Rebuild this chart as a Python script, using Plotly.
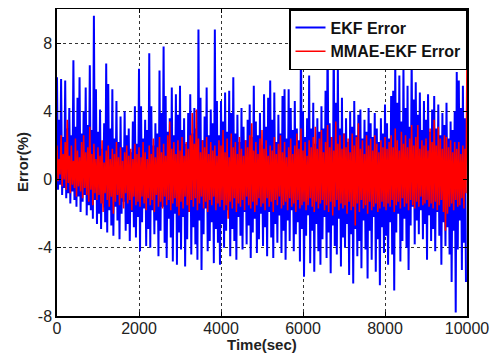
import numpy as np
import plotly.graph_objects as go

# Sample spacing: upper-envelope samples at t = 0, 50, ..., 9950; lower at t + 25
step = 50
ekf_upper = [
    6.0, 3.5, 5.9, 2.5, 5.8, 3.0, 4.2, 2.6, 7.0, 3.1, 4.8, 6.0, 2.7, 4.0, 5.4, 3.2, 6.7, 2.9, 9.6, 5.3,
    2.8, 4.1, 1.8, 3.3, 6.8, 5.6, 3.0, 5.3, 2.4, 4.6, 2.2, 3.7, 1.9, 4.0, 2.6, 3.0, 1.6, 3.4, 4.3, 2.1,
    6.5, 4.3, 2.4, 3.5, 2.9, 7.4, 4.3, 2.0, 3.3, 2.7, 6.4, 3.9, 7.8, 4.9, 2.8, 3.6, 5.4, 2.6, 5.0, 3.8,
    5.5, 2.9, 3.6, 2.1, 3.9, 5.0, 2.7, 4.2, 3.0, 8.8, 4.8, 2.3, 3.7, 5.4, 2.6, 4.1, 3.3, 8.8, 4.6, 2.6,
    4.6, 3.4, 5.1, 2.8, 5.2, 3.9, 6.0, 2.7, 3.8, 2.2, 4.2, 3.1, 2.3, 3.5, 4.4, 2.5, 5.5, 3.4, 2.6, 3.9,
    2.0, 5.0, 3.1, 4.8, 5.8, 3.5, 5.1, 2.2, 3.8, 2.7, 4.9, 5.3, 2.4, 5.3, 4.2, 2.9, 4.6, 3.0, 2.3, 8.5,
    4.0, 2.5, 3.6, 6.1, 3.0, 4.5, 2.1, 3.6, 2.8, 4.3, 3.0, 5.2, 9.0, 3.3, 2.5, 8.5, 4.5, 6.6, 3.0, 4.8,
    2.7, 3.6, 2.2, 4.0, 3.1, 4.6, 2.6, 3.8, 4.1, 2.4, 3.5, 2.8, 4.2, 3.3, 2.5, 3.9, 3.0, 2.2, 3.6, 2.7,
    4.4, 3.3, 2.4, 4.9, 5.2, 7.0, 4.5, 6.1, 3.4, 6.6, 4.2, 5.5, 3.1, 7.1, 4.7, 5.7, 3.8, 5.1, 2.9, 4.6,
    3.5, 5.0, 2.8, 4.1, 4.9, 3.0, 4.4, 2.6, 3.9, 3.2, 4.5, 2.4, 3.4, 2.9, 4.0, 6.3, 5.8, 4.2, 5.5, 3.6,
]
ekf_lower = [
    -0.6, -0.3, -0.9, -0.5, -1.1, -0.8, -1.4, -0.7, -1.2, -1.6, -1.0, -1.9, -1.3, -0.9, -2.1, -1.5, -1.8, -2.3, -1.2, -2.6,
    -2.0, -2.9, -1.4, -2.5, -3.1, -1.8, -2.7, -3.3, -1.6, -2.4, -3.5, -2.0, -1.3, -3.0, -2.6, -3.6, -1.9, -2.8, -3.4, -2.2,
    -4.2, -2.5, -1.7, -3.9, -2.9, -4.0, -1.8, -3.2, -2.4, -4.5, -3.0, -1.6, -3.7, -4.6, -2.3, -3.4, -4.8, -2.0, -5.0, -3.1,
    -4.1, -2.2, -5.1, -3.5, -1.9, -4.4, -2.8, -3.8, -4.7, -2.4, -5.3, -3.2, -1.7, -4.2, -3.6, -2.5, -4.9, -2.9, -3.7, -5.0,
    -2.6, -4.0, -3.0, -1.8, -4.5, -2.9, -3.6, -4.7, -2.2, -3.3, -4.1, -1.9, -3.8, -2.7, -4.6, -3.1, -2.3, -4.3, -3.5, -2.0,
    -3.9, -2.8, -4.5, -1.9, -3.4, -4.6, -2.6, -3.7, -2.1, -4.3, -3.0, -4.7, -2.4, -3.6, -1.8, -4.2, -3.2, -2.5, -4.8, -2.9,
    -5.7, -3.3, -2.1, -4.9, -3.0, -5.4, -2.6, -4.2, -5.0, -3.5, -2.2, -4.6, -3.1, -5.5, -2.7, -3.9, -4.4, -2.3, -5.1, -3.4,
    -4.0, -2.6, -5.6, -3.2, -6.1, -2.9, -4.5, -3.6, -5.2, -2.4, -4.1, -5.8, -3.0, -4.7, -2.2, -5.4, -3.5, -6.2, -2.8, -4.3,
    -3.3, -5.0, -2.5, -4.4, -6.5, -3.1, -2.0, -4.8, -3.6, -2.3, -4.0, -5.3, -2.7, -1.6, -3.8, -2.4, -3.2, -1.8, -3.5, -2.6,
    -4.7, -2.1, -3.6, -2.9, -4.2, -1.9, -3.3, -5.0, -2.5, -3.9, -2.8, -4.4, -6.0, -3.0, -7.8, -4.1, -2.4, -5.3, -3.7, -6.0,
]
mmae_upper = [
    2.0, 1.2, 2.6, 1.5, 2.2, 3.5, 1.4, 2.0, 1.1, 2.4, 1.7, 1.3, 2.2, 2.6, 1.6, 1.9, 3.1, 1.5, 2.1, 1.2,
    1.9, 1.4, 2.3, 1.0, 1.7, 2.0, 1.2, 1.8, 1.5, 2.2, 1.3, 1.9, 1.1, 1.6, 2.0, 1.4, 1.8, 1.2, 2.1, 1.5,
    1.9, 1.3, 2.2, 1.6, 1.2, 2.0, 1.5, 2.4, 1.3, 1.9, 2.5, 1.6, 2.1, 1.4, 2.6, 3.4, 1.8, 2.2, 1.5, 2.3,
    1.7, 2.5, 1.4, 2.2, 1.8, 2.6, 3.9, 2.1, 4.1, 2.4, 1.6, 2.3, 1.9, 2.5, 1.5, 2.2, 1.7, 2.0, 1.4, 2.3,
    2.0, 2.9, 1.6, 2.4, 1.3, 2.7, 1.9, 2.2, 1.5, 2.5, 1.8, 1.4, 2.3, 1.9, 2.6, 3.3, 1.7, 2.2, 1.5, 2.4,
    2.9, 1.8, 2.3, 1.4, 2.0, 1.7, 2.5, 1.5, 2.1, 2.6, 1.6, 2.2, 1.3, 1.9, 2.4, 1.5, 2.0, 2.7, 1.8, 3.0,
    1.7, 2.2, 1.4, 2.3, 1.9, 2.5, 3.1, 1.8, 2.4, 2.9, 1.6, 2.2, 3.2, 1.9, 2.5, 1.7, 3.4, 2.1, 2.6, 1.8,
    2.7, 1.9, 2.4, 1.6, 2.7, 2.0, 2.5, 3.3, 1.8, 2.3, 1.5, 2.6, 2.0, 2.4, 1.7, 2.6, 2.1, 1.6, 2.3, 1.9,
    2.5, 1.8, 2.2, 2.6, 1.9, 3.0, 2.3, 1.7, 2.8, 2.1, 2.6, 1.9, 2.4, 3.2, 2.0, 2.5, 3.2, 1.8, 2.3, 2.0,
    2.4, 1.7, 3.0, 2.2, 3.5, 2.0, 3.1, 2.4, 1.8, 2.6, 2.5, 1.9, 2.3, 1.6, 2.2, 1.8, 2.2, 1.5, 2.0, 1.8,
]
mmae_lower = [
    -0.1, 0.3, -0.4, 0.0, -0.6, -0.2, -0.8, -0.3, -0.5, -1.0, -0.4, -0.7, -1.1, -0.5, -0.9, -1.3, -0.6, -1.5, -0.8, -1.2,
    -0.9, -1.4, -1.9, -0.8, -1.2, -1.6, -1.0, -2.0, -1.3, -0.9, -1.5, -1.1, -1.7, -0.8, -1.4, -1.2, -1.8, -1.0, -1.5, -1.3,
    -1.6, -1.0, -1.4, -1.8, -1.1, -1.5, -1.2, -1.9, -0.9, -1.6, -1.3, -1.7, -1.0, -1.5, -1.2, -1.8, -1.4, -1.1, -1.6, -2.1,
    -1.3, -1.7, -1.0, -1.5, -1.9, -1.2, -1.6, -1.1, -1.8, -1.4, -1.0, -1.7, -1.3, -1.9, -1.2, -1.5, -1.0, -1.8, -1.4, -1.6,
    -1.2, -1.8, -1.5, -2.3, -1.3, -1.7, -1.1, -1.9, -1.4, -1.6, -1.2, -1.8, -1.0, -1.5, -1.7, -1.3, -1.9, -1.5, -1.1, -1.6,
    -1.4, -1.8, -1.1, -1.6, -1.3, -1.9, -1.2, -1.5, -1.0, -1.7, -1.5, -1.3, -1.8, -1.1, -1.6, -1.4, -1.9, -1.2, -1.7, -1.5,
    -1.3, -1.8, -1.5, -1.1, -1.6, -1.9, -1.3, -1.7, -1.4, -1.2, -1.8, -1.5, -1.9, -1.3, -2.1, -1.6, -1.2, -1.8, -1.4, -1.7,
    -1.5, -2.0, -1.3, -1.8, -1.6, -2.7, -1.4, -1.9, -1.2, -1.7, -1.5, -2.0, -1.3, -1.8, -1.6, -1.4, -1.9, -1.7, -1.3, -1.6,
    -1.8, -1.4, -1.6, -1.2, -1.9, -1.5, -1.3, -1.7, -1.1, -1.6, -1.4, -1.8, -1.2, -1.5, -1.7, -1.3, -1.6, -1.0, -1.5, -1.4,
    -1.2, -1.6, -1.4, -1.7, -1.3, -1.8, -1.5, -1.2, -1.9, -3.0, -2.0, -1.6, -1.4, -1.8, -1.2, -1.6, -1.5, -1.1, -1.7, -0.8,
]
mmae_final = 7.6  # last sample at t = 10000

x_ticks = [0, 2000, 4000, 6000, 8000, 10000]
y_ticks = [-8, -4, 0, 4, 8]


def interleave(upper, lower):
    t_up = np.arange(len(upper)) * step
    t_lo = t_up + step / 2
    xs, ys = [], []
    for a, b, c, d in zip(t_up, upper, t_lo, lower):
        xs += [a, c]
        ys += [b, d]
    return xs, ys


xb, yb = interleave(ekf_upper, ekf_lower)
xr, yr = interleave(mmae_upper, mmae_lower)
xr.append(10000)
yr.append(mmae_final)

FONT = "Liberation Sans, Arial"
LEG = "<b>%s</b>"

fig = go.Figure()
fig.add_trace(go.Scatter(x=xb, y=yb, mode="lines", name=LEG % "EKF Error",
                         line=dict(color="#0000FF", width=2.0)))
fig.add_trace(go.Scatter(x=xr, y=yr, mode="lines", name=LEG % "MMAE-EKF Error",
                         line=dict(color="#FF0000", width=1.5)))

axis_common = dict(
    showline=True, mirror="ticks", linecolor="black", linewidth=1.5,
    ticks="inside", ticklen=4, tickcolor="black",
    showgrid=True, gridcolor="rgba(0,0,0,0.8)", griddash="3px,3px", gridwidth=1,
    zeroline=False, automargin=False,
    tickfont=dict(family=FONT, size=16, color="#222"),
)

# The page body adds an 8px offset; figure is sized so the plot lands at the reference pixels.
W, H = 493, 346
ML, MR, MT, MB = 49, 34, 1, 38
plot_w = W - ML - MR
plot_h = H - MT - MB

fig.update_layout(
    width=W, height=H,
    margin=dict(l=ML, r=MR, t=MT, b=MB),
    paper_bgcolor="white", plot_bgcolor="white",
    xaxis=dict(range=[0, 10000], tickvals=x_ticks, ticktext=[str(v) for v in x_ticks],
               ticklabelstandoff=-3, **axis_common),
    yaxis=dict(range=[-8, 10], tickvals=y_ticks, ticktext=[str(v) for v in y_ticks],
               **axis_common),
    legend=dict(x=1, xanchor="right", y=1, yanchor="top",
                bgcolor="white", bordercolor="black", borderwidth=1.5,
                font=dict(family=FONT, size=16, color="#111"),
                itemwidth=30, tracegroupgap=0),
    showlegend=True,
    annotations=[
        dict(text="<b>Time(sec)</b>", x=0.5, xref="paper", xanchor="center",
             y=(308 - 336) / plot_h, yref="paper", yanchor="middle",
             showarrow=False, font=dict(family=FONT, size=15, color="#222")),
        dict(text="<b>Error(%)</b>", x=(14 - 49) / plot_w, xref="paper", xanchor="center",
             y=(308 - 154) / plot_h, yref="paper", yanchor="middle",
             textangle=-90, showarrow=False, font=dict(family=FONT, size=15, color="#222")),
    ],
)

fig.write_html("out.html")
